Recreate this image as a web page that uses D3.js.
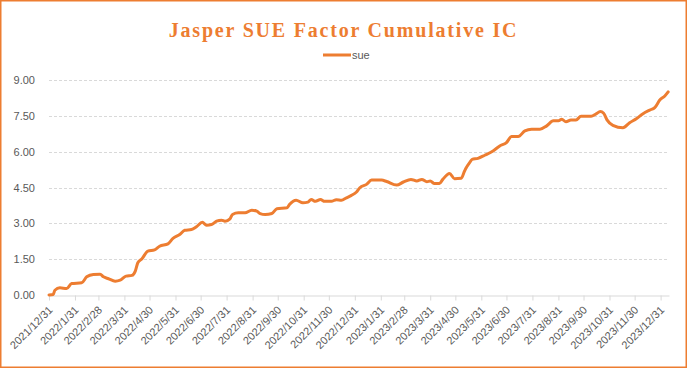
<!DOCTYPE html>
<html>
<head>
<meta charset="utf-8">
<script src="https://cdn.jsdelivr.net/npm/d3@7"></script>
<style>
  body { margin: 0; background: #fff; }
  svg { display: block; }
</style>
</head>
<body>
<div id="chart"></div>
<script>

var chartTitle = "Jasper SUE Factor Cumulative IC";
var seriesName = "sue";

var aDates = [
    "2021-12-31", "2022-01-05", "2022-01-07", "2022-01-13", "2022-01-21", "2022-01-27",
    "2022-02-08", "2022-02-14", "2022-02-22", "2022-03-02", "2022-03-06", "2022-03-12",
    "2022-03-20", "2022-03-26", "2022-04-02", "2022-04-09", "2022-04-13", "2022-04-16",
    "2022-04-21", "2022-04-28", "2022-05-06", "2022-05-12", "2022-05-22", "2022-05-28",
    "2022-06-05", "2022-06-11", "2022-06-19", "2022-06-25", "2022-07-02", "2022-07-07",
    "2022-07-13", "2022-07-19", "2022-07-25", "2022-07-29", "2022-08-04", "2022-08-07",
    "2022-08-14", "2022-08-22", "2022-08-30", "2022-09-05", "2022-09-09", "2022-09-15",
    "2022-09-23", "2022-09-29", "2022-10-11", "2022-10-14", "2022-10-22", "2022-10-30",
    "2022-11-05", "2022-11-09", "2022-11-14", "2022-11-20", "2022-11-25", "2022-12-03",
    "2022-12-09", "2022-12-15", "2022-12-21", "2022-12-27", "2023-01-02", "2023-01-06",
    "2023-01-14", "2023-01-20", "2023-02-01", "2023-02-07", "2023-02-19", "2023-02-27",
    "2023-03-08", "2023-03-15", "2023-03-21", "2023-03-27", "2023-03-31", "2023-04-05",
    "2023-04-11", "2023-04-15", "2023-04-23", "2023-04-29", "2023-05-07", "2023-05-11",
    "2023-05-13", "2023-05-17", "2023-05-20", "2023-05-27", "2023-06-04", "2023-06-14",
    "2023-06-22", "2023-06-30", "2023-07-06", "2023-07-14", "2023-07-22", "2023-07-30",
    "2023-08-09", "2023-08-17", "2023-08-25", "2023-08-31", "2023-09-04", "2023-09-09",
    "2023-09-15", "2023-09-21", "2023-09-27", "2023-10-09", "2023-10-15", "2023-10-20",
    "2023-10-24", "2023-10-28", "2023-11-04", "2023-11-16", "2023-11-24", "2023-12-02",
    "2023-12-10", "2023-12-18", "2023-12-24", "2023-12-30", "2024-01-05", "2024-01-09"
];

var aSue = [
    0.00, 0.02, 0.20, 0.30, 0.27, 0.48,
    0.51, 0.76, 0.86, 0.87, 0.76, 0.68,
    0.58, 0.62, 0.79, 0.82, 1.00, 1.35,
    1.52, 1.84, 1.89, 2.04, 2.14, 2.37,
    2.53, 2.71, 2.74, 2.86, 3.05, 2.92,
    2.95, 3.09, 3.13, 3.09, 3.19, 3.37,
    3.44, 3.44, 3.55, 3.51, 3.41, 3.37,
    3.41, 3.61, 3.65, 3.79, 3.97, 3.86,
    3.89, 4.00, 3.92, 4.00, 3.92, 3.92,
    3.99, 3.97, 4.07, 4.17, 4.31, 4.49,
    4.63, 4.81, 4.81, 4.75, 4.60, 4.73,
    4.84, 4.77, 4.84, 4.74, 4.77, 4.67,
    4.67, 4.84, 5.09, 4.87, 4.89, 5.19,
    5.33, 5.54, 5.68, 5.72, 5.85, 6.03,
    6.24, 6.38, 6.63, 6.63, 6.87, 6.94,
    6.94, 7.08, 7.29, 7.29, 7.36, 7.25,
    7.33, 7.33, 7.48, 7.48, 7.58, 7.68,
    7.61, 7.33, 7.10, 7.00, 7.21, 7.38,
    7.59, 7.74, 7.84, 8.16, 8.33, 8.50
];

var aYTicks = [0, 1.5, 3, 4.5, 6, 7.5, 9];
var xStart = "2021-12-31";
var xEnd = "2024-01-10";

var w = 687;
var h = 368;
var margin = {top: 80, right: 18, bottom: 73, left: 49};
var orange = "#ED7D31";
var grey = "#595959";

var parse = d3.timeParse("%Y-%m-%d");

var data = aDates.map(function(d, i){
    return {date: parse(d), value: aSue[i]};
});

// month-end ticks
var aMonthEnds = d3.timeMonth.range(parse("2022-01-01"), parse("2024-01-02"))
    .map(function(d){ return d3.timeDay.offset(d, -1); });

var svg = d3.select("#chart")
    .append("svg")
    .attr("width", w)
    .attr("height", h);

svg.append("rect")
    .attr("x", 0.75)
    .attr("y", 0.75)
    .attr("width", w - 1.5)
    .attr("height", h - 1.5)
    .attr("fill", "white")
    .attr("stroke", orange)
    .attr("stroke-width", 1.5);

var x = d3.scaleTime()
    .domain([parse(xStart), parse(xEnd)])
    .range([margin.left, w - margin.right]);

var y = d3.scaleLinear()
    .domain([0, 9])
    .range([h - margin.bottom, margin.top]);

// gridlines
svg.append("g")
    .selectAll("line")
    .data(aYTicks.filter(function(d){ return d > 0; }))
    .enter()
    .append("line")
    .attr("x1", x.range()[0])
    .attr("x2", x.range()[1])
    .attr("y1", function(d){ return Math.round(y(d)) + 0.5; })
    .attr("y2", function(d){ return Math.round(y(d)) + 0.5; })
    .attr("stroke", "#d9d9d9")
    .attr("stroke-dasharray", "3,2");

// y labels
svg.append("g")
    .selectAll("text")
    .data(aYTicks)
    .enter()
    .append("text")
    .text(d3.format(".2f"))
    .attr("x", 35)
    .attr("y", function(d){ return y(d) + 4; })
    .attr("text-anchor", "end")
    .attr("font-family", "Liberation Sans, Arial, sans-serif")
    .attr("font-size", "11px")
    .attr("fill", grey);

// x axis
var xAxis = d3.axisBottom(x)
    .tickValues(aMonthEnds)
    .tickSize(5)
    .tickSizeOuter(0)
    .tickFormat(d3.timeFormat("%Y/%-m/%-d"));

var gx = svg.append("g")
    .attr("transform", "translate(0," + (Math.round(y(0)) + 0.5) + ")")
    .call(xAxis);

gx.select(".domain").attr("stroke", "#d9d9d9");
gx.selectAll(".tick line").attr("stroke", "#d9d9d9");
gx.selectAll(".tick text")
    .attr("font-family", "Liberation Sans, Arial, sans-serif")
    .attr("font-size", "11px")
    .attr("fill", grey)
    .attr("text-anchor", "end")
    .attr("dx", null)
    .attr("dy", null)
    .attr("x", -8)
    .attr("y", 13.5)
    .attr("transform", "rotate(-45)");

// line
var line = d3.line()
    .x(function(d){ return x(d.date); })
    .y(function(d){ return y(d.value); })
    .curve(d3.curveMonotoneX);

svg.append("path")
    .datum(data)
    .attr("d", line)
    .attr("fill", "none")
    .attr("stroke", orange)
    .attr("stroke-width", 3)
    .attr("stroke-linejoin", "round")
    .attr("stroke-linecap", "round");

// title
svg.append("text")
    .text(chartTitle)
    .attr("x", w / 2)
    .attr("y", 37)
    .attr("text-anchor", "middle")
    .attr("font-family", "Liberation Serif, Times New Roman, serif")
    .attr("font-weight", "bold")
    .attr("font-size", "20px")
    .attr("letter-spacing", "1.8px")
    .attr("fill", orange);

// legend
svg.append("line")
    .attr("x1", 323)
    .attr("x2", 351)
    .attr("y1", 55)
    .attr("y2", 55)
    .attr("stroke", orange)
    .attr("stroke-width", 3);

svg.append("text")
    .text(seriesName)
    .attr("x", 352)
    .attr("y", 59)
    .attr("font-family", "Liberation Sans, Arial, sans-serif")
    .attr("font-size", "11px")
    .attr("fill", grey);

</script>
</body>
</html>
